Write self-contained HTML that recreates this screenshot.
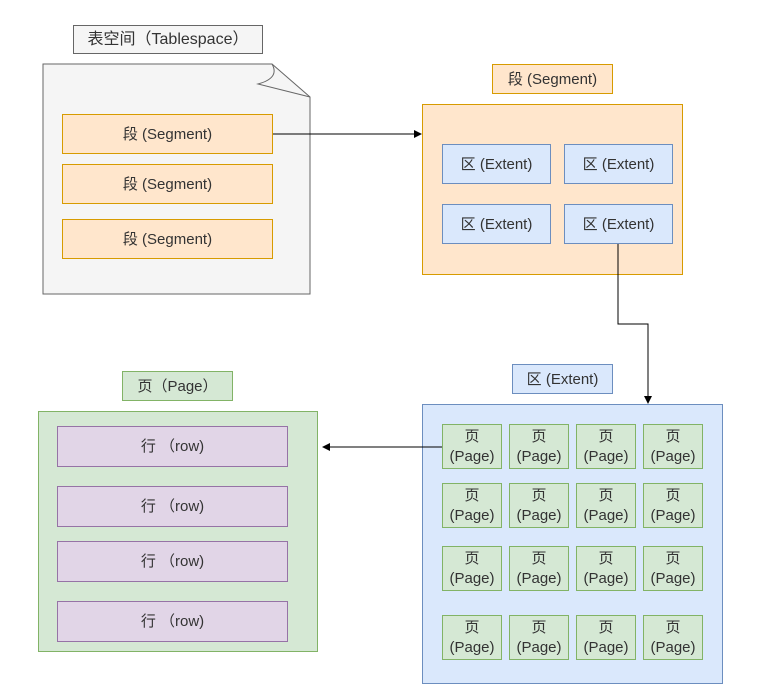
<!DOCTYPE html>
<html><head><meta charset="utf-8"><style>
body{margin:0;width:763px;height:673px;background:#fff;position:relative;overflow:hidden;font-family:"Liberation Sans","Noto Sans CJK SC",sans-serif;color:#333;}
.b{position:absolute;box-sizing:border-box;display:flex;align-items:center;justify-content:center;text-align:center;font-size:15px;line-height:19px;}
.g{background:#f5f5f5;border:1px solid #666;}
.o{background:#ffe6cc;border:1px solid #d79b00;}
.bl{background:#dae8fc;border:1px solid #6c8ebf;}
.gr{background:#d5e8d4;border:1px solid #82b366;}
.p{background:#e1d5e7;border:1px solid #9673a6;}
svg{position:absolute;left:0;top:0;}
</style></head><body>
<svg width="763" height="673">
<path d="M43 64 L272 64 L310 97 L310 294 L43 294 Z" fill="#f5f5f5" stroke="#666"/>
<path d="M272 64 Q280 78 258 84 L310 97" fill="none" stroke="#666"/>
</svg>
<div class="b g" style="left:73px;top:25px;width:190px;height:29px;font-size:16px">表空间（Tablespace）</div>
<div class="b o" style="left:62px;top:114px;width:211px;height:40px">段 (Segment)</div>
<div class="b o" style="left:62px;top:164px;width:211px;height:40px">段 (Segment)</div>
<div class="b o" style="left:62px;top:219px;width:211px;height:40px">段 (Segment)</div>
<div class="b o" style="left:492px;top:64px;width:121px;height:30px">段 (Segment)</div>
<div class="b o" style="left:422px;top:104px;width:261px;height:171px"></div>
<div class="b bl" style="left:442px;top:144px;width:109px;height:40px">区 (Extent)</div>
<div class="b bl" style="left:564px;top:144px;width:109px;height:40px">区 (Extent)</div>
<div class="b bl" style="left:442px;top:204px;width:109px;height:40px">区 (Extent)</div>
<div class="b bl" style="left:564px;top:204px;width:109px;height:40px">区 (Extent)</div>
<div class="b bl" style="left:512px;top:364px;width:101px;height:30px">区 (Extent)</div>
<div class="b bl" style="left:422px;top:404px;width:301px;height:280px"></div>
<div class="b gr" style="left:122px;top:371px;width:111px;height:30px">页（Page）</div>
<div class="b gr" style="left:38px;top:411px;width:280px;height:241px"></div>
<div class="b p" style="left:57px;top:426px;width:231px;height:41px">行 （row)</div>
<div class="b p" style="left:57px;top:486px;width:231px;height:41px">行 （row)</div>
<div class="b p" style="left:57px;top:541px;width:231px;height:41px">行 （row)</div>
<div class="b p" style="left:57px;top:601px;width:231px;height:41px">行 （row)</div>
<div id="pages"></div>
<script>
var xs=[442,509,576,643],ys=[424,483,546,615],h='';
ys.forEach(function(y){xs.forEach(function(x){h+='<div class="b gr" style="left:'+x+'px;top:'+y+'px;width:60px;height:45px;font-size:15px;line-height:20px">页<br>(Page)</div>';});});
document.getElementById('pages').innerHTML=h;
</script>
<svg width="763" height="673" style="pointer-events:none">
<defs><marker id="a" markerWidth="8" markerHeight="8" refX="7" refY="4" orient="auto" markerUnits="userSpaceOnUse"><path d="M0 0 L8 4 L0 8 Z" fill="#000"/></marker></defs>
<line x1="273" y1="134" x2="421" y2="134" stroke="#000" marker-end="url(#a)"/>
<path d="M618 244 L618 324 L648 324 L648 403" fill="none" stroke="#000" marker-end="url(#a)"/>
<line x1="442" y1="447" x2="323" y2="447" stroke="#000" marker-end="url(#a)"/>
</svg>
</body></html>
